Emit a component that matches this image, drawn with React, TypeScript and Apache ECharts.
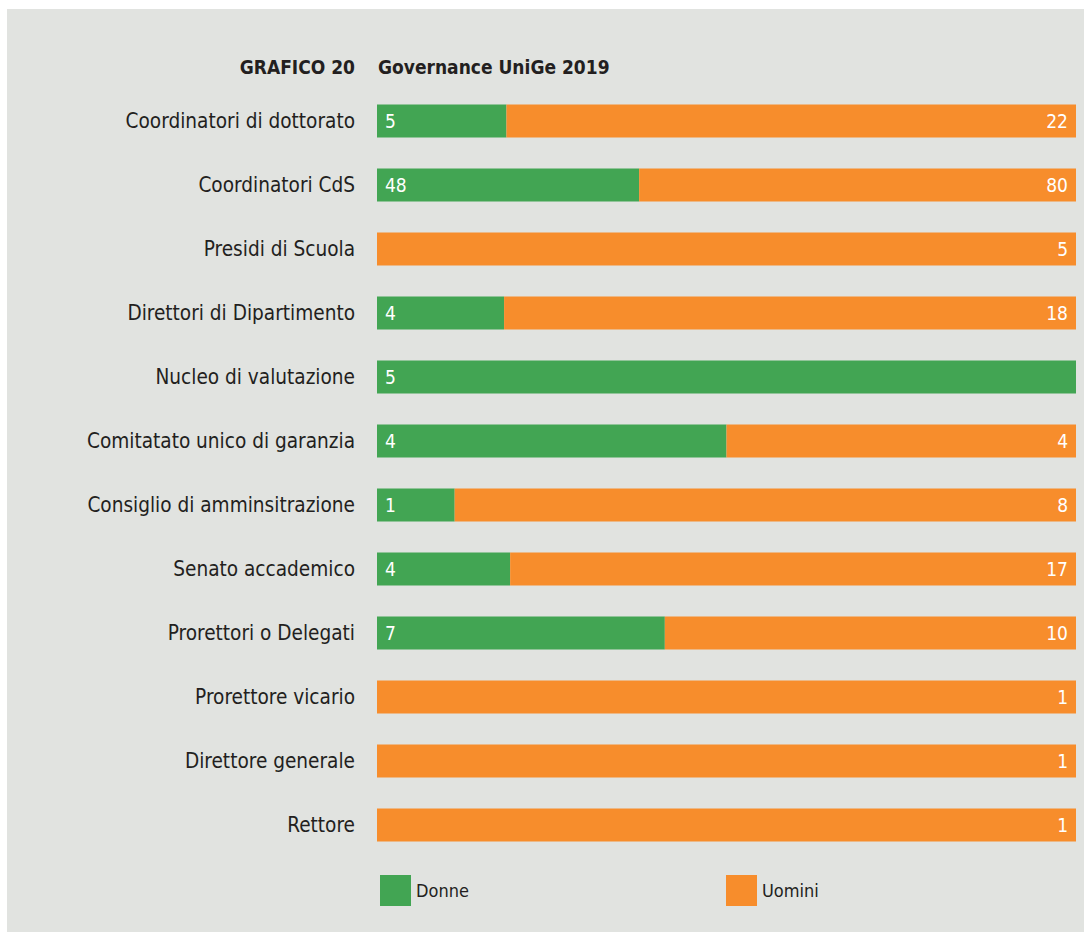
import React, { useEffect, useRef } from "react";
import * as echarts from "echarts";

const categories = [
  "Coordinatori di dottorato",
  "Coordinatori CdS",
  "Presidi di Scuola",
  "Direttori di Dipartimento",
  "Nucleo di valutazione",
  "Comitatato unico di garanzia",
  "Consiglio di amminsitrazione",
  "Senato accademico",
  "Prorettori o Delegati",
  "Prorettore vicario",
  "Direttore generale",
  "Rettore",
];
const donne = [5, 48, 0, 4, 5, 4, 1, 4, 7, 0, 0, 0];
const uomini = [22, 80, 5, 18, 0, 4, 8, 17, 10, 1, 1, 1];

const GREEN = "#42a553";
const ORANGE = "#f78d2c";
const BG = "#e1e3e0";
const FONT = "'Liberation Sans Narrow', 'DejaVu Sans Condensed', 'Roboto', sans-serif";

export default function App() {
  const ref = useRef<HTMLDivElement>(null);
  useEffect(() => {
    if (!ref.current) return;
    const chart = echarts.init(ref.current, undefined, { renderer: "svg" });
    const mk = (vals: number[], other: number[]) =>
      vals.map((v, i) => ({ value: v + other[i] > 0 ? (v / (v + other[i])) * 100 : 0, raw: v }));
    const labelFmt = (p: any) => (p.data.raw > 0 ? String(p.data.raw) : "");
    chart.setOption({
      animation: false,
      backgroundColor: "#ffffff",
      graphic: [
        { type: "rect", left: 7, top: 9, shape: { width: 1077, height: 923 }, style: { fill: BG }, z: -10 },
        {
          type: "text", x: 355, y: 67,
          style: { text: "GRAFICO 20", fill: "#231f20", font: `bold 19px ${FONT}`, align: "right", verticalAlign: "middle" },
        },
        {
          type: "text", x: 378, y: 67,
          style: { text: "Governance UniGe 2019", fill: "#231f20", font: `bold 19px ${FONT}`, align: "left", verticalAlign: "middle" },
        },
      ],
      grid: { left: 377, right: 8, top: 89, bottom: 75, containLabel: false },
      xAxis: { type: "value", min: 0, max: 100, show: false },
      yAxis: {
        type: "category",
        data: categories,
        inverse: true,
        axisLine: { show: false },
        axisTick: { show: false },
        splitLine: { show: false },
        axisLabel: { margin: 22, color: "#231f20", fontSize: 20.6, fontFamily: FONT },
      },
      legend: [
        {
          data: ["Donne"], left: 380, top: 875, padding: 0, itemWidth: 31, itemHeight: 31, icon: "rect",
          textStyle: { fontSize: 18, color: "#231f20", fontFamily: FONT },
        },
        {
          data: ["Uomini"], left: 726, top: 875, padding: 0, itemWidth: 31, itemHeight: 31, icon: "rect",
          textStyle: { fontSize: 18, color: "#231f20", fontFamily: FONT },
        },
      ],
      series: [
        {
          name: "Donne", type: "bar", stack: "t", barWidth: 33,
          itemStyle: { color: GREEN },
          data: mk(donne, uomini),
          label: { show: true, position: "insideLeft", distance: 8, color: "#fff", fontSize: 19, fontFamily: FONT, formatter: labelFmt },
        },
        {
          name: "Uomini", type: "bar", stack: "t", barWidth: 33,
          itemStyle: { color: ORANGE },
          data: mk(uomini, donne),
          label: { show: true, position: "insideRight", distance: 8, color: "#fff", fontSize: 19, fontFamily: FONT, formatter: labelFmt },
        },
      ],
    });
    return () => chart.dispose();
  }, []);
  return <div ref={ref} style={{ position: "absolute", left: 0, top: 0, width: 1084, height: 932 }} />;
}
